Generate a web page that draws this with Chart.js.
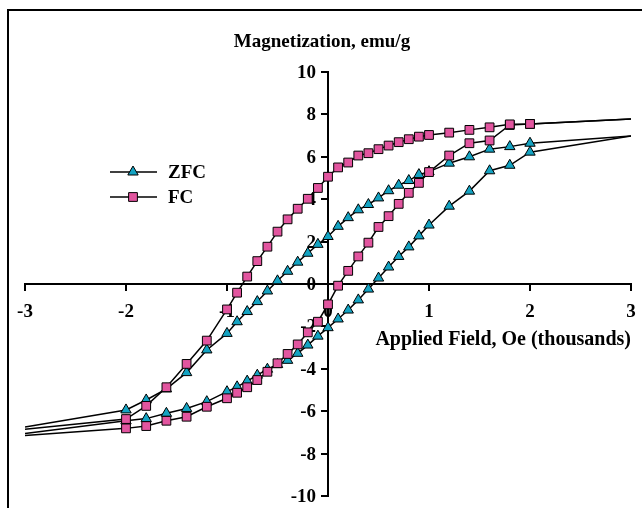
<!DOCTYPE html>
<html>
<head>
<meta charset="utf-8">
<script src="https://cdn.jsdelivr.net/npm/chart.js@4.4.1/dist/chart.umd.min.js"></script>
<style>
  html, body { margin: 0; padding: 0; background: #fff; }
  #wrap { position: relative; width: 642px; height: 508px; overflow: hidden; }
  #frame { position: absolute; left: 7px; top: 9px; width: 700px; height: 600px;
           border-left: 2px solid #000; border-top: 2px solid #000; }
  canvas { position: absolute; left: 0; top: 0; }
</style>
</head>
<body>
<div id="wrap">
  <div id="frame"></div>
  <canvas id="loopChart" width="642" height="508"></canvas>
</div>
<script>
// applied field (thousands of Oe), sweeping down from +3 then back up from -3
const fieldDown = [3, 2, 1.8, 1.6, 1.4, 1.2, 1, 0.9, 0.8, 0.7, 0.6, 0.5, 0.4, 0.3, 0.2, 0.1, 0,
  -0.1, -0.2, -0.3, -0.4, -0.5, -0.6, -0.7, -0.8, -0.9, -1, -1.2, -1.4, -1.6, -1.8, -2, -3];
const fieldUp = fieldDown.slice().reverse();

// magnetization, emu/g
const zfcDown = [6.98, 6.64, 6.48, 6.36, 6.0, 5.7, 5.3, 5.16, 4.88, 4.66, 4.4, 4.06, 3.75, 3.5, 3.13, 2.72, 2.24,
  1.87, 1.45, 1.03, 0.6, 0.15, -0.33, -0.83, -1.3, -1.78, -2.33, -3.11, -4.18, -4.95, -5.47, -5.94, -6.75];
const zfcUp = [-7.05, -6.45, -6.35, -6.1, -5.87, -5.55, -5.08, -4.85, -4.58, -4.3, -4.02, -3.8, -3.6, -3.27, -2.88, -2.46,
  -2.06, -1.65, -1.23, -0.75, -0.24, 0.28, 0.8, 1.3, 1.75, 2.27, 2.78, 3.67, 4.38, 5.34, 5.6, 6.22, 6.98];
const fcDown = [7.78, 7.55, 7.53, 7.39, 7.27, 7.14, 7.03, 6.95, 6.83, 6.69, 6.53, 6.36, 6.17, 6.06, 5.73, 5.5, 5.06,
  4.53, 4.02, 3.55, 3.05, 2.47, 1.76, 1.08, 0.35, -0.41, -1.2, -2.67, -3.77, -4.87, -5.75, -6.37, -6.85];
const fcUp = [-7.15, -6.81, -6.7, -6.45, -6.26, -5.79, -5.39, -5.13, -4.87, -4.53, -4.14, -3.74, -3.3, -2.85, -2.28, -1.78,
  -0.96, -0.08, 0.62, 1.3, 1.95, 2.69, 3.2, 3.78, 4.3, 4.77, 5.28, 6.06, 6.64, 6.77, 7.5, 7.55, 7.78];

const seriesNames = ['ZFC', 'FC'];
const xTicks = [-3, -2, -1, 0, 1, 2, 3];
const yTicks = [-10, -8, -6, -4, -2, 0, 2, 4, 6, 8, 10];

const zfcColor = '#14a3c2';
const fcColor = '#e2559f';
const serif = '"Liberation Serif", "Times New Roman", serif';
const textSize = 19;

function pairs(xs, ys) {
  return xs.map((x, i) => ({ x: x, y: ys[i] }));
}

// the end segments out to +/-3 carry no marker
function markerSize(r) {
  return ctx => (ctx.raw && Math.abs(ctx.raw.x) >= 3 ? 0 : r);
}

function branch(label, xs, ys, color, style, order) {
  return {
    label: label,
    data: pairs(xs, ys),
    showLine: true,
    borderColor: '#000',
    borderWidth: 1.5,
    pointStyle: style,
    pointRadius: markerSize(style === 'rect' ? 6.2 : 6),
    pointBackgroundColor: color,
    pointBorderColor: '#000',
    pointBorderWidth: 1,
    order: order
  };
}

// keep label overhang from shrinking the plot area
function noOverhang(scale) {
  scale.paddingLeft = 0;
  scale.paddingRight = 0;
  scale.paddingTop = 0;
  scale.paddingBottom = 0;
}

// y labels sit left of the crossing axis, under the data
const yLabelPlugin = {
  id: 'yLabels',
  beforeDatasetsDraw(chart) {
    const c = chart.ctx;
    const xs = chart.scales.x, ys = chart.scales.y;
    const axisX = xs.getPixelForValue(0);
    c.save();
    c.fillStyle = '#000';
    c.font = 'bold ' + textSize + 'px ' + serif;
    c.textAlign = 'right';
    c.textBaseline = 'middle';
    yTicks.forEach(v => c.fillText(String(v), axisX - 12, ys.getPixelForValue(v) + 1));
    c.restore();
  }
};

const textPlugin = {
  id: 'loopText',
  afterDraw(chart) {
    const c = chart.ctx;
    c.save();
    c.fillStyle = '#000';
    c.font = 'bold ' + textSize + 'px ' + serif;
    c.textBaseline = 'middle';
    c.textAlign = 'center';
    c.fillText('Magnetization, emu/g', 322, 42);
    c.font = 'bold 20px ' + serif;
    c.textAlign = 'right';
    c.fillText('Applied Field, Oe (thousands)', 631, 340);

    // legend: line with marker, then name
    const rows = [
      { name: seriesNames[0], color: zfcColor, style: 'triangle', r: 6, y: 172 },
      { name: seriesNames[1], color: fcColor, style: 'rect', r: 6.2, y: 197 }
    ];
    c.font = 'bold ' + textSize + 'px ' + serif;
    rows.forEach(row => {
      c.strokeStyle = '#000';
      c.lineWidth = 1.5;
      c.beginPath();
      c.moveTo(110, row.y);
      c.lineTo(157, row.y);
      c.stroke();
      c.fillStyle = row.color;
      c.lineWidth = 1;
      Chart.helpers.drawPoint(c, { pointStyle: row.style, radius: row.r, rotation: 0, borderWidth: 1 }, 133, row.y);
      c.fillStyle = '#000';
      c.textAlign = 'left';
      c.fillText(row.name, 168, row.y + 1);
    });
    c.restore();
  }
};

const tickFont = { family: serif, size: textSize, weight: 'bold' };

new Chart(document.getElementById('loopChart').getContext('2d'), {
  type: 'scatter',
  data: {
    datasets: [
      branch(seriesNames[0], fieldDown, zfcDown, zfcColor, 'triangle', 2),
      branch(seriesNames[0], fieldUp, zfcUp, zfcColor, 'triangle', 2),
      branch(seriesNames[1], fieldDown, fcDown, fcColor, 'rect', 1),
      branch(seriesNames[1], fieldUp, fcUp, fcColor, 'rect', 1)
    ]
  },
  options: {
    responsive: false,
    animation: false,
    devicePixelRatio: 1,
    layout: { padding: { left: 25, right: 11, top: 72, bottom: 12 } },
    plugins: { legend: { display: false }, tooltip: { enabled: false } },
    scales: {
      x: {
        type: 'linear',
        min: xTicks[0],
        max: xTicks[xTicks.length - 1],
        position: { y: 0 },
        border: { color: '#000', width: 2 },
        grid: { drawOnChartArea: false, drawTicks: true, tickLength: 6, color: '#000', lineWidth: 2 },
        afterBuildTicks: axis => { axis.ticks = xTicks.map(v => ({ value: v })); },
        afterFit: noOverhang,
        ticks: { color: '#000', font: tickFont, padding: 11, maxRotation: 0 }
      },
      y: {
        type: 'linear',
        min: yTicks[0],
        max: yTicks[yTicks.length - 1],
        position: { x: 0 },
        border: { color: '#000', width: 2 },
        grid: { drawOnChartArea: false, drawTicks: true, tickLength: 6, color: '#000', lineWidth: 2 },
        afterBuildTicks: axis => { axis.ticks = yTicks.map(v => ({ value: v })); },
        afterFit: noOverhang,
        ticks: { display: false }
      }
    }
  },
  plugins: [yLabelPlugin, textPlugin]
});
</script>
</body>
</html>
